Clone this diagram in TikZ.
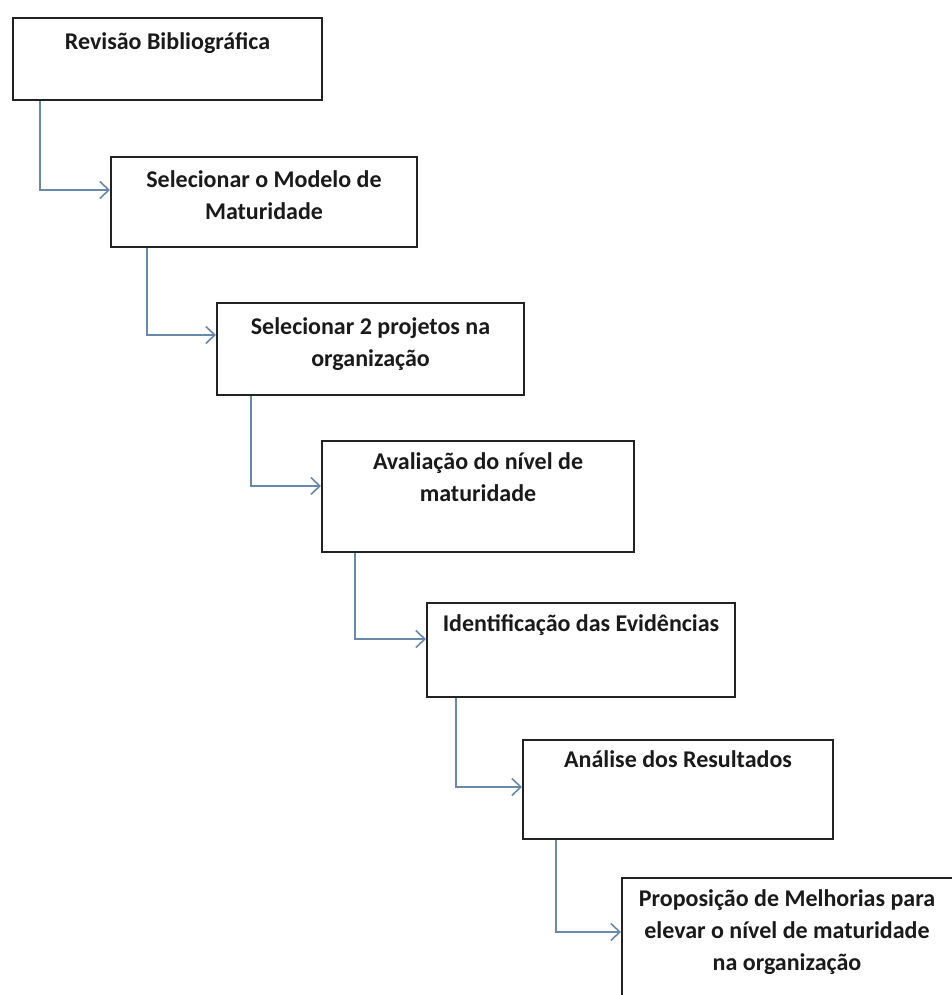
\documentclass[tikz,border=0pt]{standalone}
\usepackage{fontspec}
\setmainfont{Carlito}
\usetikzlibrary{arrows.meta}

\definecolor{flowblue}{RGB}{104,136,172}
\definecolor{boxline}{RGB}{34,34,34}
\definecolor{inktext}{RGB}{26,26,26}

% strut that fixes the top of every first text line
\newcommand{\firstln}{\rule{0pt}{19bp}}

\tikzset{
  stepbox/.style={draw=boxline, line width=2bp, fill=white, rectangle,
    inner sep=0pt, anchor=north west},
  steptext/.style={font=\bfseries\fontsize{24bp}{32bp}\selectfont,
    text=inktext, align=center, anchor=north, inner sep=0pt},
  flow/.style={draw=flowblue, line width=1.8bp,
    -{Straight Barb[length=9bp,width=17bp,line width=1.6bp]}}
}

\begin{document}
\begin{tikzpicture}[x=1bp,y=-1bp]
  \useasboundingbox (0,0) rectangle (952,995);
  \fill[white] (0,0) rectangle (952,995);
  \clip (0,0) rectangle (952,995);

  % process steps
  \node[stepbox, minimum width=309bp, minimum height=82bp]  (b1) at (12,17)  {};
  \node[stepbox, minimum width=306bp, minimum height=90bp]  (b2) at (110,156) {};
  \node[stepbox, minimum width=307bp, minimum height=92bp]  (b3) at (216,302) {};
  \node[stepbox, minimum width=312bp, minimum height=111bp] (b4) at (321,440) {};
  \node[stepbox, minimum width=308bp, minimum height=94bp]  (b5) at (426,602) {};
  \node[stepbox, minimum width=310bp, minimum height=99bp]  (b6) at (522,739) {};
  \node[stepbox, minimum width=336bp, minimum height=140bp] (b7) at (621,877) {};

  % step labels
  \node[steptext] (t1) at ([yshift=-13bp]b1.north) {\firstln Revisão Bibliográfica};
  \node[steptext] (t2) at ([yshift=-12bp]b2.north) {\firstln Selecionar o Modelo de\\Maturidade};
  \node[steptext] (t3) at ([yshift=-13bp]b3.north) {\firstln Selecionar 2 projetos na\\organização};
  \node[steptext] (t4) at ([yshift=-10bp]b4.north) {\firstln Avaliação do nível de\\maturidade};
  \node[steptext] (t5) at ([yshift=-10bp]b5.north) {\firstln Identificação das Evidências};
  \node[steptext] (t6) at ([yshift=-9bp]b6.north) {\firstln Análise dos Resultados};
  \node[steptext, anchor=north] (t7) at ([xshift=-3bp,yshift=-10bp]b7.north)
    {\firstln Proposição de Melhorias para\\elevar o nível de maturidade\\na organização};

  % connectors
  \draw[flow] ([xshift=28bp]b1.south west) |- ([yshift=-34bp]b2.north west);
  \draw[flow] ([xshift=37bp]b2.south west) |- ([yshift=-33bp]b3.north west);
  \draw[flow] ([xshift=35bp]b3.south west) |- ([yshift=-46bp]b4.north west);
  \draw[flow] ([xshift=34bp]b4.south west) |- ([yshift=-37bp]b5.north west);
  \draw[flow] ([xshift=30bp]b5.south west) |- ([yshift=-48bp]b6.north west);
  \draw[flow] ([xshift=34bp]b6.south west) |- ([yshift=-55bp]b7.north west);
\end{tikzpicture}
\end{document}
